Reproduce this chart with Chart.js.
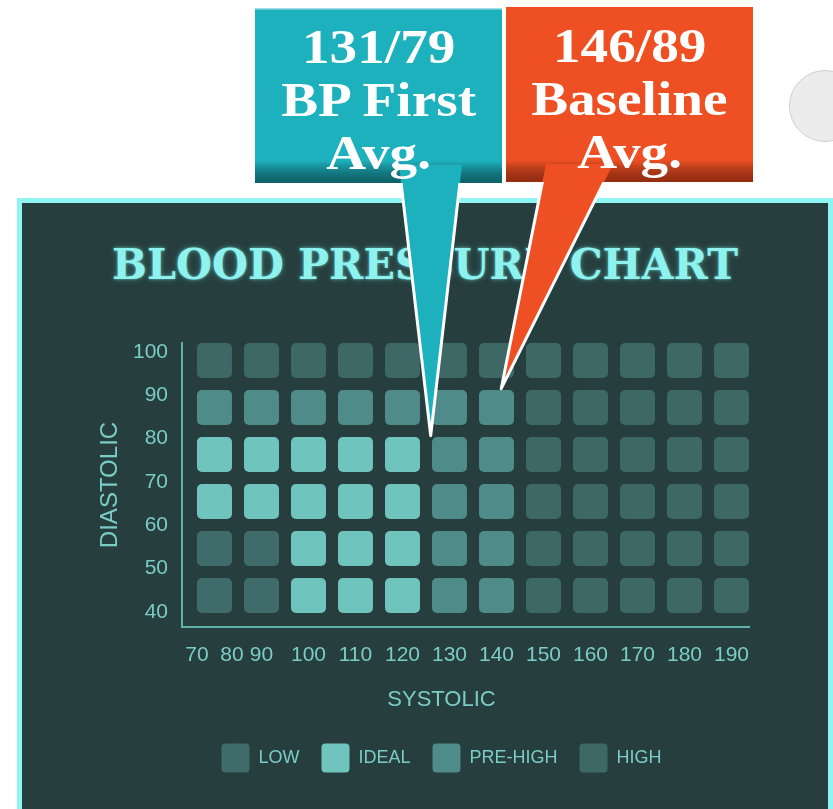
<!DOCTYPE html>
<html>
<head>
<meta charset="utf-8">
<script src="https://cdn.jsdelivr.net/npm/chart.js@4/dist/chart.umd.min.js"></script>
<style>
  html, body { margin: 0; padding: 0; background: #ffffff; width: 833px; height: 809px; overflow: hidden; position: relative; }
  #panel { position: absolute; left: 17px; top: 198px; width: 816px; height: 700px; box-sizing: border-box;
           border: 5px solid #8ef5f2; background: #263e3d; z-index: 0; }
  #title { position: absolute; left: 425px; top: 240px; white-space: nowrap; line-height: 42px;
           font: bold 42px "DejaVu Serif", serif; color: #8ef3ef; z-index: 1;
           text-shadow: 0 0 3px rgba(120, 240, 235, 0.65), 0 0 8px rgba(120, 240, 235, 0.3); }
  #chartWrap { position: absolute; left: 0; top: 0; width: 833px; height: 809px; z-index: 2; }
  .calloutText { position: absolute; z-index: 3; box-sizing: border-box; padding-top: 12px; text-align: center;
                 color: #ffffff; font: bold 48px "Liberation Serif", "Times New Roman", serif; line-height: 53px; }
  .calloutText span { display: inline-block; transform: scaleX(1.15); white-space: nowrap; }
  #knob { position: absolute; left: 789px; top: 70px; width: 72px; height: 72px; border-radius: 50%;
          background: #ececec; border: 1px solid #cfcfcf; box-sizing: border-box; z-index: 1; }
</style>
</head>
<body>
<div id="panel"></div>
<div id="title">BLOOD PRESSURE CHART</div>
<div id="knob"></div>
<div id="chartWrap"><canvas id="bp" width="833" height="809"></canvas></div>
<script>
// Systolic bins (lower bound of each column) and the labels printed under them
const systolicBins = [80, 90, 100, 110, 120, 130, 140, 150, 160, 170, 180, 190];
const systolicTickLabels = ['70  80', '90', '100', '110', '120', '130', '140', '150', '160', '170', '180', '190'];

// Diastolic bins (lower bound of each row, top row first) and axis ticks
const diastolicBins = [90, 80, 70, 60, 50, 40];
const diastolicTicks = [40, 50, 60, 70, 80, 90, 100];

// Zones, and the zone of every cell (rows top to bottom, columns left to right)
const categories = ['LOW', 'IDEAL', 'PRE-HIGH', 'HIGH'];
const zoneCodes = { L: 'LOW', I: 'IDEAL', P: 'PRE-HIGH', H: 'HIGH' };
const cellZones = [
  'HHHHHHHHHHHH',
  'PPPPPPPHHHHH',
  'IIIIIPPHHHHH',
  'IIIIIPPHHHHH',
  'LLIIIPPHHHHH',
  'LLIIIPPHHHHH'
];

// Average readings called out above the chart
const readingSystolic = [131, 146];
const readingDiastolic = [79, 89];
const readingCaptions = [['BP First', 'Avg.'], ['Baseline', 'Avg.']];

// ---- styling ----
const zoneColors = { 'LOW': '#3f6c6a', 'IDEAL': '#70c4be', 'PRE-HIGH': '#4f8b88', 'HIGH': '#3e6866' };
const textColor = '#7bccc6';
const axisColor = '#5eb3ad';
const sansFamily = '"Liberation Sans", Arial, sans-serif';
const calloutBoxes = [
  { left: 255, top: 8, width: 247, height: 175, base: [399, 462], fill: '#1db0bd', shade: 'rgba(8,70,76,0.75)' },
  { left: 506, top: 7, width: 247, height: 175, base: [546, 613], fill: '#ef5023', shade: 'rgba(110,30,8,0.7)' }
];

// Title: stretched to its printed width
(function () {
  const t = document.getElementById('title');
  const k = 626 / t.offsetWidth;
  t.style.transform = 'translateX(-50%) scaleX(' + k + ')';
})();

// Cells grouped by zone: one dataset per zone
const cells = [];
cellZones.forEach((row, r) => {
  row.split('').forEach((code, c) => {
    cells.push({ zone: zoneCodes[code], sys: systolicBins[c], dia: diastolicBins[r] });
  });
});

const datasets = categories.map(zone => ({
  label: zone,
  backgroundColor: zoneColors[zone],
  borderColor: 'rgba(0,0,0,0)',
  borderWidth: 6,
  borderRadius: 11,
  borderSkipped: false,
  inflateAmount: 0,
  data: cells.filter(c => c.zone === zone).map(c => ({ x: c.sys + 5, y: [c.dia, c.dia + 10] }))
}));

// Callout boxes with their pointers, drawn on top of the grid
const calloutPlugin = {
  id: 'callouts',
  afterDraw(chart) {
    const { ctx } = chart;
    const xs = chart.scales.x, ys = chart.scales.y;
    calloutBoxes.forEach((b, i) => {
      const tipX = xs.getPixelForValue(readingSystolic[i]);
      const tipY = ys.getPixelForValue(readingDiastolic[i]);
      const bottom = b.top + b.height;
      const baseY = bottom - 18;
      ctx.save();
      // box
      ctx.fillStyle = b.fill;
      ctx.fillRect(b.left, b.top, b.width, b.height);
      const g = ctx.createLinearGradient(0, bottom - 22, 0, bottom);
      g.addColorStop(0, 'rgba(0,0,0,0)');
      g.addColorStop(1, b.shade);
      ctx.fillStyle = g;
      ctx.fillRect(b.left, bottom - 22, b.width, 22);
      if (i === 0) {
        ctx.fillStyle = 'rgba(255,255,255,0.6)';
        ctx.fillRect(b.left, b.top, b.width, 1.5);
      }
      // pointer
      ctx.beginPath();
      ctx.moveTo(b.base[0], baseY);
      ctx.lineTo(tipX, tipY);
      ctx.lineTo(b.base[1], baseY);
      ctx.closePath();
      ctx.fillStyle = b.fill;
      ctx.fill();
      ctx.save();
      ctx.beginPath();
      ctx.rect(0, bottom, chart.width, chart.height);
      ctx.clip();
      ctx.beginPath();
      ctx.moveTo(b.base[0], baseY);
      ctx.lineTo(tipX, tipY);
      ctx.lineTo(b.base[1], baseY);
      ctx.strokeStyle = '#ffffff';
      ctx.lineWidth = 3;
      ctx.lineJoin = 'round';
      ctx.stroke();
      ctx.restore();
      ctx.restore();
    });
  }
};

// Callout text
calloutBoxes.forEach((b, i) => {
  const d = document.createElement('div');
  d.className = 'calloutText';
  d.style.left = b.left + 'px';
  d.style.top = b.top + 'px';
  d.style.width = b.width + 'px';
  d.style.height = b.height + 'px';
  const lines = [readingSystolic[i] + '/' + readingDiastolic[i]].concat(readingCaptions[i]);
  lines.forEach((ln, j) => {
    if (j) d.appendChild(document.createElement('br'));
    const s = document.createElement('span');
    s.textContent = ln;
    d.appendChild(s);
  });
  document.body.appendChild(d);
});

new Chart(document.getElementById('bp'), {
  type: 'bar',
  data: { datasets },
  options: {
    responsive: false,
    animation: false,
    events: [],
    layout: { padding: { left: 134, right: 84, top: 343, bottom: 26.6 } },
    datasets: { bar: { grouped: false, categoryPercentage: 1, barPercentage: 1 } },
    scales: {
      x: {
        type: 'linear', min: 78.09, max: 198.72, offset: false,
        grid: { display: false, drawTicks: false },
        border: { display: true, color: axisColor, width: 2 },
        afterBuildTicks: s => { s.ticks = systolicBins.map(b => ({ value: b + 5 })); },
        ticks: {
          autoSkip: false, maxRotation: 0, padding: 16, color: textColor,
          font: { family: sansFamily, size: 21 },
          callback: (v, i) => systolicTickLabels[i]
        },
        afterFit: s => { s.height = 40; }
      },
      y: { type: 'linear', display: false, min: 38.30, max: 98.72 },
      dia: {
        type: 'linear', position: 'left', min: 36.54, max: 102.08,
        grid: { display: false, drawTicks: false },
        border: { display: true, color: axisColor, width: 2 },
        afterBuildTicks: s => { s.ticks = diastolicTicks.map(v => ({ value: v })); },
        ticks: { padding: 14, color: textColor, font: { family: sansFamily, size: 21 } },
        title: {
          display: true, text: 'DIASTOLIC', color: textColor,
          font: { family: sansFamily, size: 24 },
          padding: { top: -38.4, bottom: 0 }
        },
        afterFit: s => { s.width = 48; }
      }
    },
    plugins: {
      tooltip: { enabled: false },
      subtitle: {
        display: true, text: 'SYSTOLIC', position: 'bottom', weight: 500,
        color: textColor, font: { family: sansFamily, size: 22, weight: 'normal' },
        padding: { top: 20, bottom: 8 }
      },
      legend: {
        position: 'bottom',
        labels: {
          boxWidth: 28, boxHeight: 29, padding: 22, color: textColor,
          useBorderRadius: true, borderRadius: 4,
          font: { family: sansFamily, size: 18 }
        }
      }
    }
  },
  plugins: [calloutPlugin]
});
</script>
</body>
</html>
